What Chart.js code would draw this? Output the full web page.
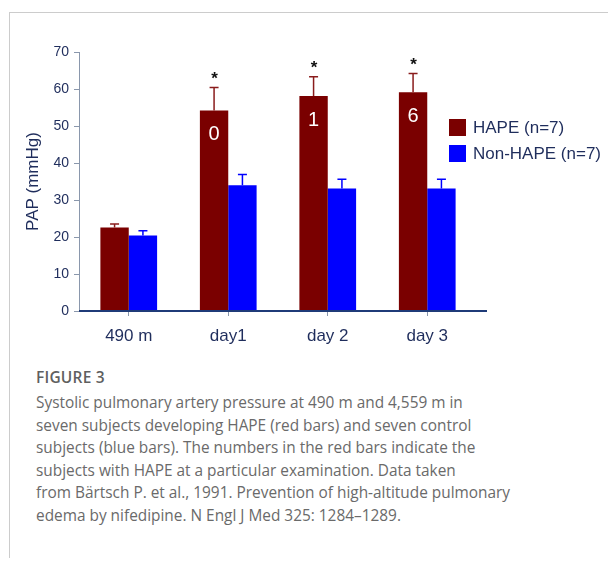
<!DOCTYPE html>
<html>
<head>
<meta charset="utf-8">
<script src="https://cdn.jsdelivr.net/npm/chart.js@4.4.1/dist/chart.umd.min.js"></script>
<style>
  html, body { margin: 0; padding: 0; background: #fff; }
  body { width: 608px; height: 561px; position: relative; overflow: hidden; }
  #frame { position: absolute; left: 9px; top: 12px; width: 600px; height: 545px;
           border-top: 1px solid #cccccc; border-left: 1px solid #cccccc; }
  #chartWrap { position: absolute; left: 0; top: 0; width: 608px; height: 360px; }
  #fig { position: absolute; left: 36px; top: 366px; font-family: "Open Sans", sans-serif;
         font-weight: 600; font-size: 15.5px; color: #5f5f5f; letter-spacing: 0.2px; }
  #cap { position: absolute; left: 36px; top: 392px; width: 570px; font-family: "Open Sans", sans-serif;
         font-weight: 400; font-size: 15.4px; line-height: 22.6px; color: #6a6a6a; }
</style>
</head>
<body>
<div id="frame"></div>
<div id="chartWrap"><canvas id="c" width="608" height="360"></canvas></div>
<div id="fig">FIGURE 3</div>
<div id="cap">Systolic pulmonary artery pressure at 490 m and 4,559 m in<br>seven subjects developing HAPE (red bars) and seven control<br>subjects (blue bars). The numbers in the red bars indicate the<br>subjects with HAPE at a particular examination. Data taken<br>from Bärtsch P. et al., 1991. Prevention of high-altitude pulmonary<br>edema by nifedipine. N Engl J Med 325: 1284–1289.</div>
<script>
const categories = ["490 m", "day1", "day 2", "day 3"];
const hapeValues = [22.6, 54.2, 58.1, 59.1];
const hapeErrTop = [23.5, 60.4, 63.3, 64.2];
const nonHapeValues = [20.4, 34.0, 33.1, 33.1];
const nonHapeErrTop = [21.7, 36.9, 35.6, 35.6];
const hapeCounts = ["", "0", "1", "6"];
const significant = [false, true, true, true];
const seriesNames = ["HAPE (n=7)", "Non-HAPE (n=7)"];
const yTicks = [0, 10, 20, 30, 40, 50, 60, 70];

const RED = "#7a0000", BLUE = "#0000ff", NAVY = "#1f2d5c", AXIS = "#8a97ac";
const FONT = "'Liberation Sans', Arial, sans-serif";

const extras = {
  id: "extras",
  afterDatasetsDraw(chart) {
    const ctx = chart.ctx;
    const y = chart.scales.y;
    const errs = [hapeErrTop, nonHapeErrTop];
    const errColors = ["#8a1c1c", BLUE];
    ctx.save();
    [0, 1].forEach(di => {
      const meta = chart.getDatasetMeta(di);
      meta.data.forEach((bar, i) => {
        const top = y.getPixelForValue(errs[di][i]);
        ctx.strokeStyle = errColors[di];
        ctx.lineWidth = 1.5;
        ctx.beginPath();
        ctx.moveTo(bar.x, bar.y);
        ctx.lineTo(bar.x, top);
        ctx.moveTo(bar.x - 4.5, top);
        ctx.lineTo(bar.x + 4.5, top);
        ctx.stroke();
        if (di === 0) {
          if (hapeCounts[i]) {
            ctx.fillStyle = "#ffffff";
            ctx.font = "20px " + FONT;
            ctx.textAlign = "center";
            ctx.textBaseline = "middle";
            ctx.fillText(hapeCounts[i], bar.x, bar.y + 24);
          }
          if (significant[i]) {
            ctx.fillStyle = "#111111";
            ctx.font = "bold 17px " + FONT;
            ctx.textAlign = "center";
            ctx.textBaseline = "middle";
            ctx.fillText("*", bar.x + 0.5, top - 8);
          }
        }
      });
    });
    // baseline
    const zero = y.getPixelForValue(0);
    ctx.strokeStyle = "#1f3b78";
    ctx.lineWidth = 2;
    ctx.beginPath();
    ctx.moveTo(chart.chartArea.left, zero);
    ctx.lineTo(chart.chartArea.right + 10, zero);
    ctx.stroke();
    // legend
    const colors = [RED, BLUE];
    const ly = [119, 145];
    ctx.font = "17px " + FONT;
    ctx.textAlign = "left";
    ctx.textBaseline = "middle";
    seriesNames.forEach((name, k) => {
      ctx.fillStyle = colors[k];
      ctx.fillRect(449, ly[k], 17, 17);
      ctx.fillStyle = NAVY;
      ctx.fillText(name, 473, ly[k] + 9);
    });
    ctx.restore();
  }
};

new Chart(document.getElementById("c"), {
  type: "bar",
  data: {
    labels: categories,
    datasets: [
      { label: seriesNames[0], data: hapeValues, backgroundColor: RED },
      { label: seriesNames[1], data: nonHapeValues, backgroundColor: BLUE }
    ]
  },
  options: {
    responsive: false,
    animation: false,
    events: [],
    layout: { padding: { left: 0, top: 52, right: 131, bottom: 0 } },
    datasets: { bar: { categoryPercentage: 0.57, barPercentage: 1.0 } },
    plugins: { legend: { display: false }, tooltip: { enabled: false } },
    scales: {
      x: {
        grid: { offset: false, drawOnChartArea: false, drawTicks: true, tickLength: 5, color: AXIS, lineWidth: 1 },
        border: { display: false },
        ticks: { color: NAVY, font: { family: FONT, size: 17 }, padding: 10 },
        afterFit(s) { s.height = 49; }
      },
      y: {
        min: 0, max: 70,
        afterBuildTicks(s) { s.ticks = yTicks.map(v => ({ value: v })); },
        grid: { drawOnChartArea: false, drawTicks: true, tickLength: 5, color: AXIS },
        border: { display: true, color: AXIS, width: 1 },
        ticks: { color: NAVY, font: { family: FONT, size: 14 }, padding: 5 },
        title: { display: true, text: "PAP (mmHg)", color: NAVY, font: { family: FONT, size: 17 }, padding: { top: 23, bottom: 0 } },
        afterFit(s) { s.width = 79; }
      }
    }
  },
  plugins: [extras]
});
</script>
</body>
</html>
